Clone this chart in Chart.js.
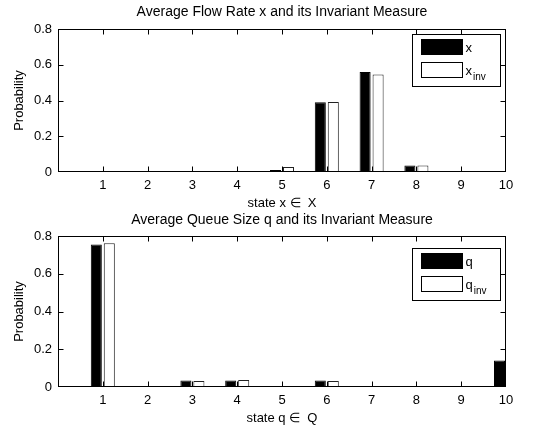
<!DOCTYPE html>
<html>
<head>
<meta charset="utf-8">
<script src="https://cdn.jsdelivr.net/npm/chart.js@4.4.1/dist/chart.umd.min.js"></script>
<style>
  html, body { margin: 0; padding: 0; background: #fff; }
  #wrap { position: relative; width: 552px; height: 431px; overflow: hidden; background: #fff; }
  .panel { position: absolute; left: 0; width: 552px; }
  #topPanel { top: 0; height: 215px; }
  #bottomPanel { top: 207px; height: 224px; }
</style>
</head>
<body>
<div id="wrap">
  <div class="panel" id="topPanel"><canvas id="chartFlow" width="552" height="215"></canvas></div>
  <div class="panel" id="bottomPanel"><canvas id="chartQueue" width="552" height="224"></canvas></div>
</div>
<script>
// states 1..10, axis runs from 0 to 10
const states = [1, 2, 3, 4, 5, 6, 7, 8, 9, 10];
const yTicks = [0, 0.2, 0.4, 0.6, 0.8];

// average flow rate x and its invariant measure
const flowX   = [0, 0, 0, 0, 0.011, 0.390, 0.560, 0.036, 0, 0];
const flowInv = [0, 0, 0, 0, 0.028, 0.392, 0.545, 0.036, 0.001, 0];

// average queue size q and its invariant measure
const queueQ   = [0.755, 0.002, 0.035, 0.035, 0.001, 0.035, 0.001, 0, 0, 0.140];
const queueInv = [0.762, 0.004, 0.032, 0.037, 0.004, 0.032, 0.004, 0, 0, 0.140];

const FONT = 'Liberation Sans, Arial, Helvetica, sans-serif';

// title, box, inward ticks and legend like a matlab axes
const matlabAxes = {
    id: 'matlabAxes',
    afterDraw(chart, args, opts) {
        const { ctx, chartArea: a, scales } = chart;
        const x = scales.x, y = scales.y;
        const tickLen = 5;
        ctx.save();

        ctx.fillStyle = '#000';
        ctx.font = '14px ' + FONT;
        ctx.textAlign = 'center';
        ctx.textBaseline = 'middle';
        ctx.fillText(opts.title, (a.left + a.right) / 2, opts.titleY);

        ctx.strokeStyle = '#000';
        ctx.lineWidth = 1;
        const L = Math.round(a.left) + 0.5, R = Math.round(a.right) - 0.5;
        const T = Math.round(a.top) + 0.5, B = Math.round(a.bottom) - 0.5;
        const clamp = (v, lo, hi) => Math.min(hi, Math.max(lo, v));
        ctx.strokeRect(L, T, R - L, B - T);
        ctx.beginPath();
        x.ticks.forEach(t => {
            const px = clamp(Math.round(x.getPixelForValue(t.value)) + 0.5, L, R);
            ctx.moveTo(px, B); ctx.lineTo(px, B - tickLen);
            ctx.moveTo(px, T); ctx.lineTo(px, T + tickLen);
        });
        y.ticks.forEach(t => {
            const py = clamp(Math.round(y.getPixelForValue(t.value)) + 0.5, T, B);
            ctx.moveTo(L, py); ctx.lineTo(L + tickLen, py);
            ctx.moveTo(R, py); ctx.lineTo(R - tickLen, py);
        });
        ctx.stroke();

        // legend
        const w = 88, h = 52;
        const lx = Math.round(a.right - 6 - w) + 0.5;
        const ly = Math.round(a.top + opts.legendTop) + 0.5;
        ctx.fillStyle = '#fff';
        ctx.fillRect(lx, ly, w, h);
        ctx.strokeRect(lx, ly, w, h);
        opts.entries.forEach((e, i) => {
            const sy = ly + 5 + i * 23;
            ctx.fillStyle = e.fill;
            ctx.fillRect(lx + 9, sy, 41, 15);
            ctx.strokeStyle = '#000';
            ctx.strokeRect(lx + 9, sy, 41, 15);
            ctx.fillStyle = '#000';
            ctx.textBaseline = 'alphabetic';
            ctx.textAlign = 'left';
            ctx.font = '13px ' + FONT;
            const base = sy + 12;
            ctx.fillText(e.text, lx + 53, base);
            if (e.sub) {
                const tw = ctx.measureText(e.text).width;
                ctx.font = '10px ' + FONT;
                ctx.fillText(e.sub, lx + 53 + tw + 1, base + 5);
            }
        });
        ctx.restore();
    }
};

function criarGrafico(canvasId, cfg) {
    const font = { family: FONT, size: 13 };
    return new Chart(document.getElementById(canvasId), {
        type: 'bar',
        data: {
            datasets: [
                {
                    label: cfg.labelA,
                    data: states.map((s, i) => ({ x: s, y: cfg.serieA[i] })),
                    backgroundColor: '#000',
                    borderColor: '#000',
                    borderWidth: 1,
                    clip: 0
                },
                {
                    label: cfg.labelB,
                    data: states.map((s, i) => ({ x: s, y: cfg.serieB[i] })),
                    backgroundColor: '#fff',
                    borderColor: '#222',
                    borderWidth: 1,
                    clip: 0
                }
            ]
        },
        options: {
            responsive: false,
            animation: false,
            events: [],
            categoryPercentage: 0.58,
            barPercentage: 0.85,
            layout: { padding: { top: cfg.areaTop, right: 46, left: 0, bottom: 0 } },
            plugins: {
                legend: { display: false },
                tooltip: { enabled: false },
                title: { display: false },
                matlabAxes: { title: cfg.title, titleY: cfg.titleY, legendTop: cfg.legendTop, entries: cfg.entries }
            },
            scales: {
                x: {
                    type: 'linear',
                    offset: false,
                    min: 0,
                    max: 10,
                    ticks: {
                        stepSize: 1,
                        autoSkip: false,
                        maxRotation: 0,
                        padding: 6,
                        color: '#000',
                        font,
                        callback: v => (v === 0 ? '' : String(v))
                    },
                    grid: { display: false, drawTicks: false, offset: false },
                    border: { display: false },
                    title: { display: true, text: cfg.xTitle, color: '#000', font, padding: { top: 0, bottom: cfg.xTitlePad } },
                    afterFit: s => { s.height = cfg.xHeight; }
                },
                y: {
                    min: 0,
                    max: 0.8,
                    afterBuildTicks: s => { s.ticks = yTicks.map(v => ({ value: v })); },
                    ticks: { padding: 6, color: '#000', font },
                    grid: { display: false, drawTicks: false },
                    border: { display: false },
                    title: { display: true, text: 'Probability', color: '#000', font, padding: { top: 12, bottom: 0 } },
                    afterFit: s => { s.width = 58; }
                }
            }
        },
        plugins: [matlabAxes]
    });
}

criarGrafico('chartFlow', {
    title: 'Average Flow Rate x and its Invariant Measure',
    xTitle: 'state x \u2208  X',
    serieA: flowX, serieB: flowInv,
    labelA: 'x', labelB: 'x_inv',
    areaTop: 29, titleY: 12,
    xHeight: 43, xTitlePad: 4,
    legendTop: 5,
    entries: [{ fill: '#000', text: 'x' }, { fill: '#fff', text: 'x', sub: 'inv' }]
});

criarGrafico('chartQueue', {
    title: 'Average Queue Size q and its Invariant Measure',
    xTitle: 'state q \u2208  Q',
    serieA: queueQ, serieB: queueInv,
    labelA: 'q', labelB: 'q_inv',
    areaTop: 29, titleY: 13,
    xHeight: 44, xTitlePad: 5,
    legendTop: 12,
    entries: [{ fill: '#000', text: 'q' }, { fill: '#fff', text: 'q', sub: 'inv' }]
});
</script>
</body>
</html>
